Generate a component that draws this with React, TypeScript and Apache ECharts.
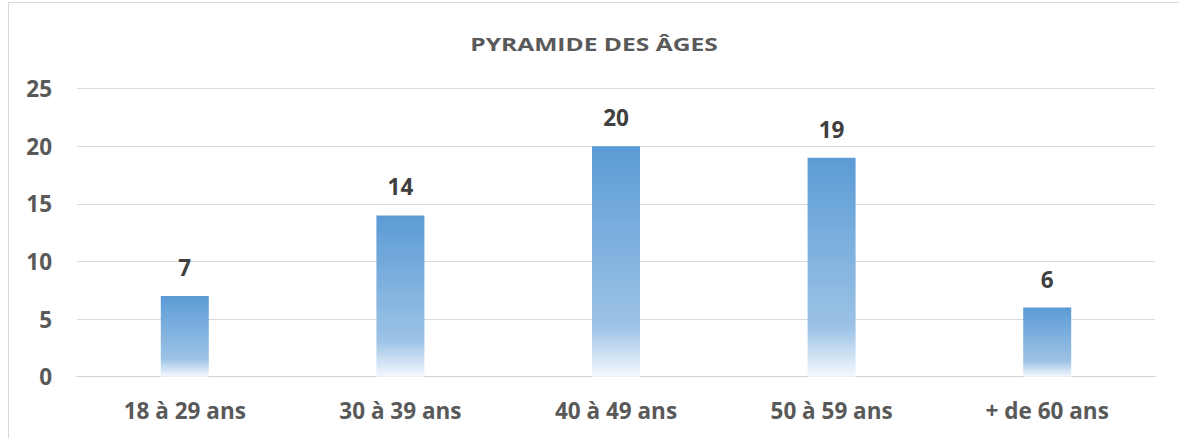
import React, { useEffect, useRef } from "react";
import * as echarts from "echarts";

const titleText = "PYRAMIDE DES ÂGES";
const categories = ["18 à 29 ans", "30 à 39 ans", "40 à 49 ans", "50 à 59 ans", "+ de 60 ans"];
const values = [7, 14, 20, 19, 6];
const yTicks = { min: 0, max: 25, interval: 5 };

export default function App() {
  const ref = useRef<HTMLDivElement>(null);
  useEffect(() => {
    document.body.style.margin = "0";
    if (!ref.current) return;
    const chart = echarts.init(ref.current, null, { renderer: "svg" });
    const font = "'Open Sans', sans-serif";
    chart.setOption({
      animation: false,
      backgroundColor: "#ffffff",
      graphic: [
        {
          type: "rect",
          silent: true,
          shape: { x: 8.5, y: 2.5, width: 1300, height: 600 },
          style: { fill: "none", stroke: "#d9d9d9", lineWidth: 1 },
        },
        {
          type: "text",
          x: 594,
          y: 44,
          scaleX: 1.33,
          style: {
            text: titleText,
            fontFamily: font,
            fontWeight: "bold",
            fontSize: 18.5,
            fill: "#595959",
            align: "center",
            verticalAlign: "middle",
          },
        },
      ],
      grid: { left: 77, right: 24, top: 88.7, bottom: 61.3, containLabel: false },
      xAxis: {
        type: "category",
        data: categories,
        axisTick: { show: false },
        axisLine: { show: true, lineStyle: { color: "#d0d0d0", width: 1 } },
        axisLabel: {
          color: "#595959",
          fontFamily: font,
          fontWeight: "bold",
          fontSize: 22.5,
          margin: 22,
        },
      },
      yAxis: {
        type: "value",
        min: yTicks.min,
        max: yTicks.max,
        interval: yTicks.interval,
        axisLine: { show: false },
        axisTick: { show: false },
        splitLine: { lineStyle: { color: "#d9d9d9", width: 1 } },
        axisLabel: {
          color: "#595959",
          fontFamily: font,
          fontWeight: "bold",
          fontSize: 22.5,
          margin: 25,
        },
      },
      series: [
        {
          type: "bar",
          data: values,
          barWidth: 48,
          itemStyle: {
            color: new echarts.graphic.LinearGradient(0, 0, 0, 1, [
              { offset: 0, color: "#5b9bd5" },
              { offset: 0.78, color: "#9dc3e6" },
              { offset: 1, color: "#f5f9fe" },
            ]),
          },
          label: {
            show: true,
            position: "top",
            distance: 17,
            color: "#404040",
            fontFamily: font,
            fontWeight: "bold",
            fontSize: 22.5,
          },
        },
      ],
    });
    return () => chart.dispose();
  }, []);
  return <div ref={ref} style={{ width: 1179, height: 438 }} />;
}
